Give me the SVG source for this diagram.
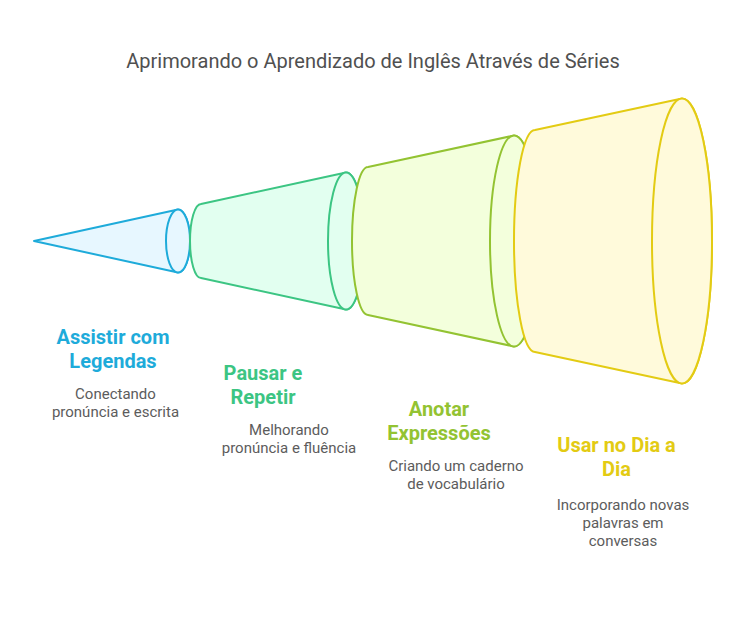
<svg xmlns="http://www.w3.org/2000/svg" width="746" height="626" viewBox="0 0 746 626">
<style>
text{font-family:Roboto,"Liberation Sans",sans-serif;text-anchor:middle}
.t{font-size:20px;fill:#505050}
.h{font-size:20px;font-weight:700}
.d{font-size:15px;fill:#5c5c5c}
.s{stroke-width:2;stroke-linejoin:round}
.n1 .s{fill:#e7f7ff;stroke:#1eabda}.n1 .h{fill:#1eabda}
.n2 .s{fill:#e2fff0;stroke:#3cc583}.n2 .h{fill:#3cc583}
.n3 .s{fill:#f3ffdc;stroke:#93c332}.n3 .h{fill:#93c332}
.n4 .s{fill:#fffadb;stroke:#e3cb13}.n4 .h{fill:#e3cb13}
</style>
<rect width="746" height="626" fill="#ffffff"/>
<text class="t" x="373" y="68">Aprimorando o Aprendizado de Inglês Através de Séries</text>
<g id="node-assistir" class="n1">
<path class="s" d="M34 241L178 209.500A12 31.500 0 0 1 178 272.500Z"/>
<ellipse class="s" cx="178" cy="241" rx="12" ry="31.500"/>
<text class="h" x="113" y="344">Assistir com</text>
<text class="h" x="113" y="368">Legendas</text>
<text class="d" x="115.500" y="399">Conectando</text>
<text class="d" x="115.500" y="417">pronúncia e escrita</text>
</g>
<g id="node-pausar" class="n2">
<path class="s" d="M201 204L346 172.500A18 68.500 0 0 1 346 309.500L201 278A11 37 0 0 1 201 204Z"/>
<ellipse class="s" cx="346" cy="241" rx="18" ry="68.500"/>
<text class="h" x="263" y="380">Pausar e</text>
<text class="h" x="263" y="404">Repetir</text>
<text class="d" x="289" y="435">Melhorando</text>
<text class="d" x="289" y="453">pronúncia e fluência</text>
</g>
<g id="node-anotar" class="n3">
<path class="s" d="M368 167L514 135.500A24 105.500 0 0 1 514 346.500L368 315A16 74 0 0 1 368 167Z"/>
<ellipse class="s" cx="514" cy="241" rx="24" ry="105.500"/>
<text class="h" x="439" y="416">Anotar</text>
<text class="h" x="439" y="440">Expressões</text>
<text class="d" x="456" y="471">Criando um caderno</text>
<text class="d" x="456" y="489">de vocabulário</text>
</g>
<g id="node-usar" class="n4">
<path class="s" d="M535 130L682 98.500A30 142.500 0 0 1 682 383.500L535 352A21 111 0 0 1 535 130Z"/>
<ellipse class="s" cx="682" cy="241" rx="30" ry="142.500"/>
<text class="h" x="616.500" y="452">Usar no Dia a</text>
<text class="h" x="616.500" y="476">Dia</text>
<text class="d" x="623" y="510">Incorporando novas</text>
<text class="d" x="623" y="528">palavras em</text>
<text class="d" x="623" y="546">conversas</text>
</g>
<g id="connectors"></g>
</svg>
